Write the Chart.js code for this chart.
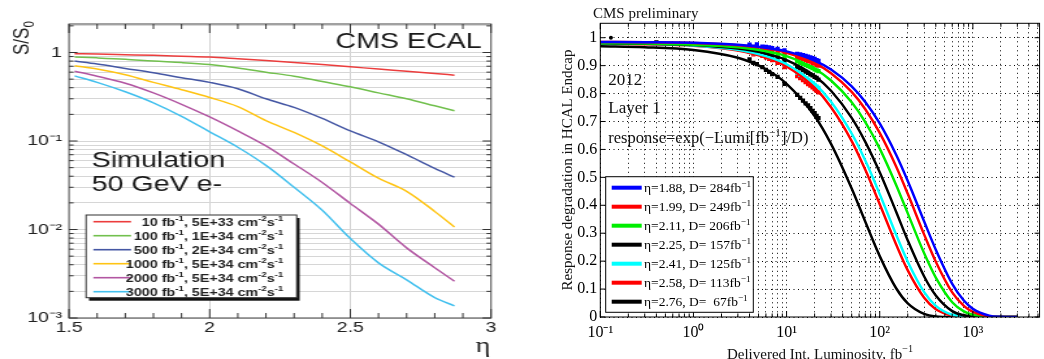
<!DOCTYPE html>
<html><head><meta charset="utf-8">
<script src="https://cdn.jsdelivr.net/npm/chart.js@4/dist/chart.umd.min.js"></script>
<style>
html,body{margin:0;padding:0;background:#fff;width:1044px;height:359px;overflow:hidden;}
#leftWrap{position:absolute;left:0;top:0;width:385px;height:359px;transform:scaleX(1.3);transform-origin:0 0;}
#rightWrap{position:absolute;left:540px;top:0;width:504px;height:359px;}
canvas{display:block;}
</style></head><body>
<div id="leftWrap"><canvas id="left" width="385" height="359"></canvas></div>
<div id="rightWrap"><canvas id="right" width="504" height="359"></canvas></div>
<script>
// ---------------- LEFT: CMS ECAL S/S0 vs eta ----------------
const eta = [1.52, 1.6, 1.7, 1.8, 1.9, 2.0, 2.1, 2.2, 2.3, 2.4, 2.5, 2.6, 2.7, 2.8, 2.87];
const s10fb   = [0.97, 0.96, 0.945, 0.93, 0.91, 0.89, 0.85, 0.81, 0.77, 0.73, 0.69, 0.65, 0.615, 0.58, 0.555];
const s100fb  = [0.89, 0.87, 0.84, 0.80, 0.77, 0.73, 0.67, 0.60, 0.54, 0.47, 0.41, 0.35, 0.30, 0.25, 0.22];
const s500fb  = [0.80, 0.74, 0.66, 0.59, 0.52, 0.46, 0.39, 0.30, 0.24, 0.18, 0.13, 0.098, 0.070, 0.049, 0.039];
const s1000fb = [0.71, 0.65, 0.56, 0.46, 0.38, 0.31, 0.245, 0.17, 0.125, 0.088, 0.058, 0.038, 0.027, 0.016, 0.0107];
const s2000fb = [0.615, 0.54, 0.45, 0.35, 0.26, 0.187, 0.13, 0.088, 0.055, 0.034, 0.0197, 0.0115, 0.0062, 0.0037, 0.0026];
const s3000fb = [0.545, 0.46, 0.36, 0.27, 0.19, 0.127, 0.085, 0.053, 0.030, 0.0165, 0.0079, 0.0042, 0.0027, 0.0017, 0.00137];
const leftLumi = ['10', '100', '500', '1000', '2000', '3000'];
const leftInst = ['5E+33', '1E+34', '2E+34', '5E+34', '5E+34', '5E+34'];
const leftXTicks = [1.5, 1.6, 1.7, 1.8, 1.9, 2.0, 2.1, 2.2, 2.3, 2.4, 2.5, 2.6, 2.7, 2.8, 2.9, 3.0];
const leftXMajor = [1.5, 2.0, 2.5, 3.0];
const leftXMajorLabels = ['1.5', '2', '2.5', '3'];
const leftYMajor = [0.001, 0.01, 0.1, 1];
const leftYMajorLabels = ['10⁻³', '10⁻²', '10⁻¹', '1'];

// ---------------- RIGHT: HCAL Endcap response vs lumi ----------------
const lumi = [0.1, 0.3, 1, 3, 6, 10, 20, 30, 50, 70, 100, 150, 200, 300, 400, 600, 800, 1000, 1500, 2000, 3000];
const resp284 = [0.985,0.984,0.982,0.975,0.964,0.951,0.918,0.886,0.826,0.770,0.693,0.581,0.487,0.342,0.241,0.119,0.059,0.029,0.005,0.001,0];
const resp249 = [0.985,0.984,0.981,0.973,0.962,0.946,0.909,0.873,0.806,0.744,0.659,0.539,0.441,0.295,0.198,0.088,0.040,0.018,0.002,0,0];
const resp206 = [0.980,0.979,0.975,0.966,0.952,0.934,0.889,0.847,0.769,0.698,0.603,0.473,0.371,0.228,0.141,0.053,0.020,0.008,0.001,0,0];
const resp157 = [0.980,0.978,0.974,0.961,0.943,0.920,0.863,0.810,0.713,0.627,0.518,0.377,0.274,0.145,0.077,0.021,0.006,0.002,0,0,0];
const resp125 = [0.979,0.978,0.972,0.957,0.934,0.905,0.835,0.771,0.657,0.560,0.440,0.295,0.198,0.089,0.040,0.008,0.002,0,0,0,0];
const resp113 = [0.979,0.977,0.971,0.954,0.929,0.897,0.821,0.751,0.630,0.527,0.404,0.260,0.167,0.069,0.028,0.005,0.001,0,0,0,0];
const resp67  = [0.969,0.966,0.956,0.928,0.887,0.835,0.720,0.620,0.460,0.341,0.218,0.103,0.049,0.011,0.002,0,0,0,0,0,0];
const measLumi = [4, 4.4, 4.8, 5.5, 6, 6.5, 7, 8, 9.5, 13, 14, 15, 16, 17, 18, 19, 20, 21, 22];
const meas284 = [0.975,0.968,0.976,0.968,0.967,0.965,0.963,0.960,0.955,0.942,0.940,0.938,0.935,0.932,0.930,0.927,0.924,0.920,0.917];
const meas249 = [0.970,0.962,0.970,0.962,0.960,0.957,0.955,0.952,0.946,0.930,0.927,0.924,0.920,0.917,0.914,0.910,0.907,0.903,0.900];
const meas206 = [0.965,0.957,0.965,0.955,0.952,0.948,0.945,0.940,0.932,0.915,0.910,0.906,0.902,0.898,0.895,0.891,0.887,0.883,0.880];
const meas157 = [0.960,0.952,0.958,0.948,0.944,0.940,0.936,0.930,0.920,0.895,0.890,0.884,0.879,0.874,0.869,0.865,0.860,0.856,0.850];
const meas125 = [0.955,0.945,0.952,0.940,0.935,0.930,0.926,0.918,0.905,0.875,0.868,0.862,0.855,0.849,0.843,0.837,0.831,0.825,0.820];
const meas113 = [0.950,0.940,0.947,0.935,0.930,0.924,0.920,0.910,0.895,0.862,0.855,0.848,0.841,0.834,0.828,0.822,0.816,0.810,0.804];
const meas67  = [0.922,0.910,0.905,0.895,0.885,0.878,0.870,0.860,0.835,0.795,0.785,0.775,0.765,0.758,0.748,0.738,0.730,0.720,0.712];
const earlyLumi = [0.13, 0.4];
const earlyResp = [1.0, 0.983];
const etaLabels = ['1.88', '1.99', '2.11', '2.25', '2.41', '2.58', '2.76'];
const dValues = [284, 249, 206, 157, 125, 113, 67];
const rightXTicks = [];
for (const d of [0.1, 1, 10, 100, 1000]) for (let k = 1; k <= 9; k++) { const v = +(d * k).toPrecision(3); if (v <= 5200) rightXTicks.push(v); }
const rightXMajor = [0.1, 1, 10, 100, 1000];
const rightXMajorLabels = ['10⁻¹', '10⁰', '10¹', '10²', '10³'];
const rightYTicks = [0, 0.1, 0.2, 0.3, 0.4, 0.5, 0.6, 0.7, 0.8, 0.9, 1.0];

const leftYTicks = [];
for (const d of leftYMajor) for (let k = 1; k <= 9; k++) { const v = +(d * k).toPrecision(3); if (v <= 2.1) leftYTicks.push(v); }

// ---------- helpers ----------
function drawRich(ctx, parts, x, y, size, family, weight, align) {
  const f = s => ((weight ? weight + ' ' : '') + s + 'px "' + family + '"');
  const widths = []; let w = 0;
  for (const [t, m] of parts) { ctx.font = f(m ? size * 0.68 : size); const ww = ctx.measureText(t).width; widths.push(ww); w += ww; }
  let cx = align === 'right' ? x - w : align === 'center' ? x - w / 2 : x;
  ctx.textAlign = 'left'; ctx.textBaseline = 'alphabetic';
  parts.forEach(([t, m], i) => {
    ctx.font = f(m ? size * 0.68 : size);
    const dy = m === 1 ? -size * 0.42 : m === -1 ? size * 0.22 : 0;
    ctx.fillText(t, cx, y + dy); cx += widths[i];
  });
}
function seg(ctx, x1, y1, x2, y2) { ctx.beginPath(); ctx.moveTo(x1, y1); ctx.lineTo(x2, y2); ctx.stroke(); }
const near = (arr, v) => arr.some(a => Math.abs(a - v) < 1e-9);
const idxOf = (arr, v) => arr.findIndex(a => Math.abs(a - v) < 1e-9);

// ---------- LEFT CHART ----------
const leftSeries = [s10fb, s100fb, s500fb, s1000fb, s2000fb, s3000fb];
const leftColors = ['#ec3d3d', '#72c04e', '#4557a4', '#ffc414', '#b256a2', '#43c0ee'];

const leftDecor = {
  id: 'leftDecor',
  afterDraw(chart) {
    const { ctx, chartArea: a, scales: { x, y } } = chart;
    ctx.save();
    ctx.strokeStyle = '#555'; ctx.lineWidth = 1.1;
    ctx.strokeRect(a.left, a.top, a.right - a.left, a.bottom - a.top);
    ctx.strokeStyle = '#333'; ctx.lineWidth = 1;
    leftYTicks.forEach(v => {
      const py = y.getPixelForValue(v); const L = near(leftYMajor, v) ? 6.5 : 3.5;
      seg(ctx, a.left, py, a.left + L, py); seg(ctx, a.right, py, a.right - L, py);
    });
    leftXTicks.forEach(v => {
      const px = x.getPixelForValue(v); const L = near(leftXMajor, v) ? 9 : 5;
      seg(ctx, px, a.bottom, px, a.bottom - L); seg(ctx, px, a.top, px, a.top + L);
    });
    // legend
    const bx = 66.2, by = 215, bw = 162, bh = 82.7;
    ctx.fillStyle = '#111'; ctx.fillRect(bx + 2.3, by + 3, bw, bh);
    ctx.fillStyle = '#fff'; ctx.fillRect(bx, by, bw, bh);
    ctx.strokeStyle = '#333'; ctx.lineWidth = 1; ctx.strokeRect(bx, by, bw, bh);
    leftLumi.forEach((l, i) => {
      const cy = 221.7 + i * 14.0;
      ctx.strokeStyle = leftColors[i]; ctx.lineWidth = 1.6;
      seg(ctx, 71.8, cy, 100.8, cy);
      ctx.fillStyle = '#222';
      drawRich(ctx, [[l + ' fb', 0], ['-1', 1], [', ' + leftInst[i] + ' cm', 0], ['-2', 1], ['s', 0], ['-1', 1]],
        218, cy + 4, 11, 'Liberation Sans', 'bold', 'right');
    });
    // annotations
    ctx.fillStyle = '#1a1a1a';
    drawRich(ctx, [['CMS ECAL', 0]], 370.5, 47.7, 22, 'Liberation Sans', '', 'right');
    drawRich(ctx, [['Simulation', 0]], 70.5, 166.7, 22, 'Liberation Sans', '', 'left');
    drawRich(ctx, [['50 GeV e-', 0]], 70.5, 190.5, 22, 'Liberation Sans', '', 'left');
    // axis titles
    ctx.fillStyle = '#222';
    drawRich(ctx, [['η', 0]], 371.5, 352, 22, 'Liberation Serif', '', 'center');
    ctx.save(); ctx.translate(22, 55); ctx.rotate(-Math.PI / 2);
    drawRich(ctx, [['S/S', 0], ['0', -1]], 0, 0, 17, 'Liberation Sans', '', 'left');
    ctx.restore();
    ctx.restore();
  }
};

new Chart(document.getElementById('left'), {
  type: 'line',
  data: {
    datasets: leftSeries.map((s, i) => ({
      label: leftLumi[i] + ' fb-1',
      data: eta.map((e, j) => ({ x: e, y: s[j] })),
      borderColor: leftColors[i], borderWidth: 1.5, pointRadius: 0,
      cubicInterpolationMode: 'monotone', fill: false
    }))
  },
  options: {
    responsive: false, animation: false, devicePixelRatio: 1,
    layout: { padding: { left: 0, right: 7.3, top: 24, bottom: 0 } },
    plugins: { legend: { display: false }, tooltip: { enabled: false } },
    scales: {
      x: {
        type: 'linear', min: 1.5, max: 3,
        afterBuildTicks: s => { s.ticks = leftXTicks.map(v => ({ value: v })); },
        afterFit: s => { s.height = 41; },
        ticks: {
          autoSkip: false, maxRotation: 0, padding: 1, color: '#222',
          font: { family: 'Liberation Sans', size: 15 },
          callback: v => { const i = idxOf(leftXMajor, v); return i >= 0 ? leftXMajorLabels[i] : ''; }
        },
        grid: {
          drawTicks: false, lineWidth: 1,
          color: c => (c.tick && (Math.abs(c.tick.value - 2) < 1e-9 || Math.abs(c.tick.value - 2.5) < 1e-9)) ? '#d2d2d2' : 'rgba(0,0,0,0)'
        },
        border: { display: false }
      },
      y: {
        type: 'logarithmic', min: 0.001, max: 2.1,
        afterBuildTicks: s => { s.ticks = leftYTicks.map(v => ({ value: v })); },
        afterFit: s => { s.width = 53.08; },
        ticks: {
          autoSkip: false, padding: 5.4, color: '#222',
          font: { family: 'Liberation Sans', size: 15 },
          callback: v => { const i = idxOf(leftYMajor, v); return i >= 0 ? leftYMajorLabels[i] : ''; }
        },
        grid: { drawTicks: false, lineWidth: 1, color: '#d6d6d6' },
        border: { display: false }
      }
    }
  },
  plugins: [leftDecor]
});

// ---------- RIGHT CHART ----------
const rightCurves = [resp284, resp249, resp206, resp157, resp125, resp113, resp67];
const rightMeas = [meas284, meas249, meas206, meas157, meas125, meas113, meas67];
const rightColors = ['#0000ff', '#ff0000', '#00ee00', '#000000', '#00ffff', '#ff0000', '#000000'];

const rightDecor = {
  id: 'rightDecor',
  afterDraw(chart) {
    const { ctx, chartArea: a, scales: { x, y } } = chart;
    ctx.save();
    ctx.strokeStyle = '#000'; ctx.lineWidth = 1;
    ctx.strokeRect(a.left, a.top, a.right - a.left, a.bottom - a.top);
    rightYTicks.forEach(v => {
      const py = y.getPixelForValue(v);
      seg(ctx, a.left, py, a.left + 5, py); seg(ctx, a.right, py, a.right - 5, py);
    });
    rightXTicks.forEach(v => {
      const px = x.getPixelForValue(v); const L = near(rightXMajor, v) ? 6 : 3.5;
      seg(ctx, px, a.bottom, px, a.bottom - L); seg(ctx, px, a.top, px, a.top + L);
    });
    // legend
    const bx = 65.7, by = 176.7, bw = 147.6, bh = 135.6;
    ctx.fillStyle = '#fff'; ctx.fillRect(bx, by, bw, bh);
    ctx.strokeStyle = '#000'; ctx.lineWidth = 1; ctx.strokeRect(bx, by, bw, bh);
    etaLabels.forEach((e, i) => {
      const cy = 187.7 + i * 19.0;
      ctx.strokeStyle = rightColors[i]; ctx.lineWidth = 4;
      seg(ctx, 71.7, cy, 101.7, cy);
      ctx.fillStyle = '#000';
      const d = dValues[i] < 100 ? ' ' + dValues[i] : '' + dValues[i];
      drawRich(ctx, [['η=' + e + ', D= ' + d + 'fb', 0], ['−1', 1]], 104, cy + 4.5, 13.5, 'Liberation Serif', '', 'left');
    });
    // annotations
    ctx.fillStyle = '#111';
    drawRich(ctx, [['CMS preliminary', 0]], 53, 18, 15, 'Liberation Serif', '', 'left');
    drawRich(ctx, [['2012', 0]], 68.3, 85, 17, 'Liberation Serif', '', 'left');
    drawRich(ctx, [['Layer 1', 0]], 68.3, 113.3, 17, 'Liberation Serif', '', 'left');
    drawRich(ctx, [['response=exp(−Lumi[fb', 0], ['−1', 1], [']/D)', 0]], 68.3, 143, 16.5, 'Liberation Serif', '', 'left');
    drawRich(ctx, [['Delivered Int. Luminosity, fb', 0], ['−1', 1]], 280, 358.5, 15, 'Liberation Serif', '', 'center');
    ctx.save(); ctx.translate(31.5, 170); ctx.rotate(-Math.PI / 2);
    drawRich(ctx, [['Response degradation in HCAL Endcap', 0]], 0, 0, 15, 'Liberation Serif', '', 'center');
    ctx.restore();
    ctx.restore();
  }
};

const rightDatasets = [];
rightCurves.forEach((c, i) => rightDatasets.push({
  label: 'η=' + etaLabels[i],
  data: lumi.map((l, j) => ({ x: l, y: c[j] })),
  borderColor: rightColors[i], borderWidth: 2.5, pointRadius: 0,
  cubicInterpolationMode: 'monotone', fill: false
}));
rightMeas.forEach((m, i) => rightDatasets.push({
  label: 'data η=' + etaLabels[i],
  data: measLumi.map((l, j) => ({ x: l, y: m[j] })),
  showLine: false, pointStyle: 'rect', pointRadius: 3, pointBorderWidth: 0,
  pointBackgroundColor: rightColors[i], borderColor: rightColors[i]
}));
rightDatasets.push({
  label: 'early data',
  data: earlyLumi.map((l, j) => ({ x: l, y: earlyResp[j] })),
  showLine: false, pointStyle: ['circle', 'rect'], pointRadius: [2, 3], pointBorderWidth: 0,
  pointBackgroundColor: '#000', borderColor: '#000'
});

new Chart(document.getElementById('right'), {
  type: 'line',
  data: { datasets: rightDatasets },
  options: {
    responsive: false, animation: false, devicePixelRatio: 1,
    layout: { padding: { left: 0, right: 2.3, top: 23.3, bottom: 0 } },
    plugins: { legend: { display: false }, tooltip: { enabled: false } },
    scales: {
      x: {
        type: 'logarithmic', min: 0.1, max: 5200,
        afterBuildTicks: s => { s.ticks = rightXTicks.map(v => ({ value: v })); },
        afterFit: s => { s.height = 42; },
        ticks: {
          autoSkip: false, maxRotation: 0, padding: 6, color: '#000',
          font: { family: 'Liberation Serif', size: 16 },
          callback: v => { const i = idxOf(rightXMajor, v); return i >= 0 ? rightXMajorLabels[i] : ''; }
        },
        grid: { drawTicks: false, lineWidth: 1, color: '#000' },
        border: { display: false, dash: [1, 3.5] }
      },
      y: {
        type: 'linear', min: 0, max: 1.0516,
        afterBuildTicks: s => { s.ticks = rightYTicks.map(v => ({ value: v })); },
        afterFit: s => { s.width = 60.3; },
        ticks: {
          autoSkip: false, padding: 3, color: '#000',
          font: { family: 'Liberation Serif', size: 16 },
          callback: v => (Math.abs(v) < 1e-9 ? '0' : Math.abs(v - 1) < 1e-9 ? '1' : v.toFixed(1))
        },
        grid: { drawTicks: false, lineWidth: 1, color: '#000' },
        border: { display: false, dash: [1, 3.5] }
      }
    }
  },
  plugins: [rightDecor]
});
</script>
</body></html>
